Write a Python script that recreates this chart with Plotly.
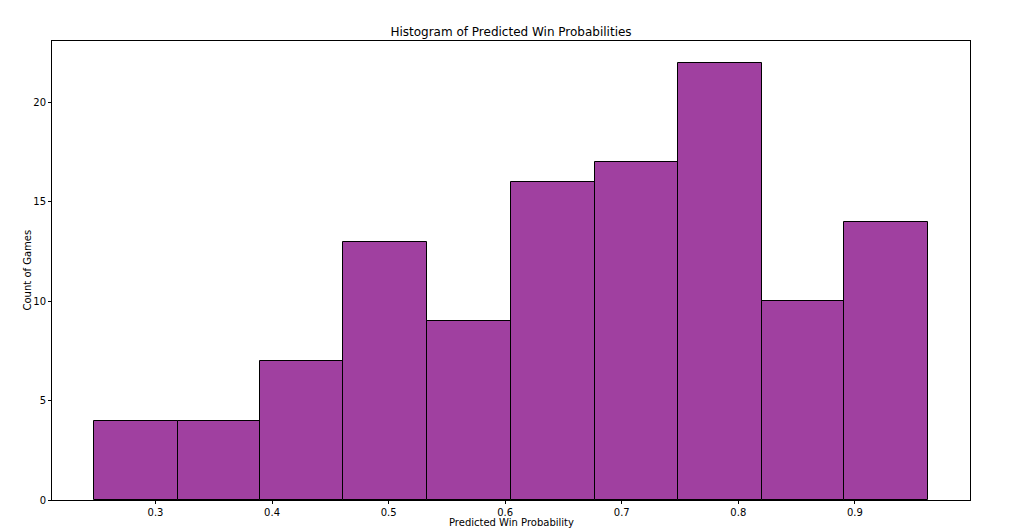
import plotly.graph_objects as go

bin_edges = [0.247, 0.319, 0.390, 0.461, 0.533, 0.605, 0.677, 0.748, 0.820, 0.891, 0.963]
counts = [4, 4, 7, 13, 9, 16, 17, 22, 10, 14]
x_ticks = [0.3, 0.4, 0.5, 0.6, 0.7, 0.8, 0.9]
y_ticks = [0, 5, 10, 15, 20]

centers = [(a + b) / 2 for a, b in zip(bin_edges[:-1], bin_edges[1:])]
widths = [b - a for a, b in zip(bin_edges[:-1], bin_edges[1:])]

span = bin_edges[-1] - bin_edges[0]
xr = [bin_edges[0] - 0.05 * span, bin_edges[-1] + 0.05 * span]
yr = [0, max(counts) * 1.05]

W, H = 1015, 523

fig = go.Figure(go.Bar(
    x=centers, y=counts, width=widths,
    marker=dict(color="#A040A0", line=dict(color="black", width=1)),
))

font = dict(family="DejaVu Sans", size=10, color="black")
fig.update_layout(
    width=W, height=H,
    margin=dict(l=44, r=53, t=33, b=31, autoexpand=False),
    paper_bgcolor="white", plot_bgcolor="white",
    showlegend=False,
    font=font,
    title=dict(text="Histogram of Predicted Win Probabilities", x=(44 + (W - 53)) / 2 / W, xanchor="center",
               y=1 - 24 / H, yanchor="middle", font=dict(family="DejaVu Sans", size=12, color="black")),
    bargap=0,
    annotations=[
        dict(text="Predicted Win Probability", xref="paper", yref="paper", x=0.5, y=0,
             xanchor="center", yanchor="middle", yshift=-22, showarrow=False, font=font),
        dict(text="Count of Games", xref="paper", yref="paper", x=0, y=0.5, textangle=-90,
             xanchor="center", yanchor="middle", xshift=-25, showarrow=False, font=font),
    ],
)
fig.update_xaxes(
    range=xr, tickvals=x_ticks, ticktext=[f"{v:.1f}" for v in x_ticks],
    showgrid=False, zeroline=False, showline=True, linecolor="black", linewidth=1, mirror=True,
    ticks="outside", ticklen=3, tickcolor="black", tickfont=font, automargin=False,
)
fig.update_yaxes(
    range=yr, tickvals=y_ticks, automargin=False,
    showgrid=False, zeroline=False, showline=True, linecolor="black", linewidth=1, mirror=True,
    ticks="outside", ticklen=3, tickcolor="black", tickfont=font,
)

fig.write_html("out.html")
